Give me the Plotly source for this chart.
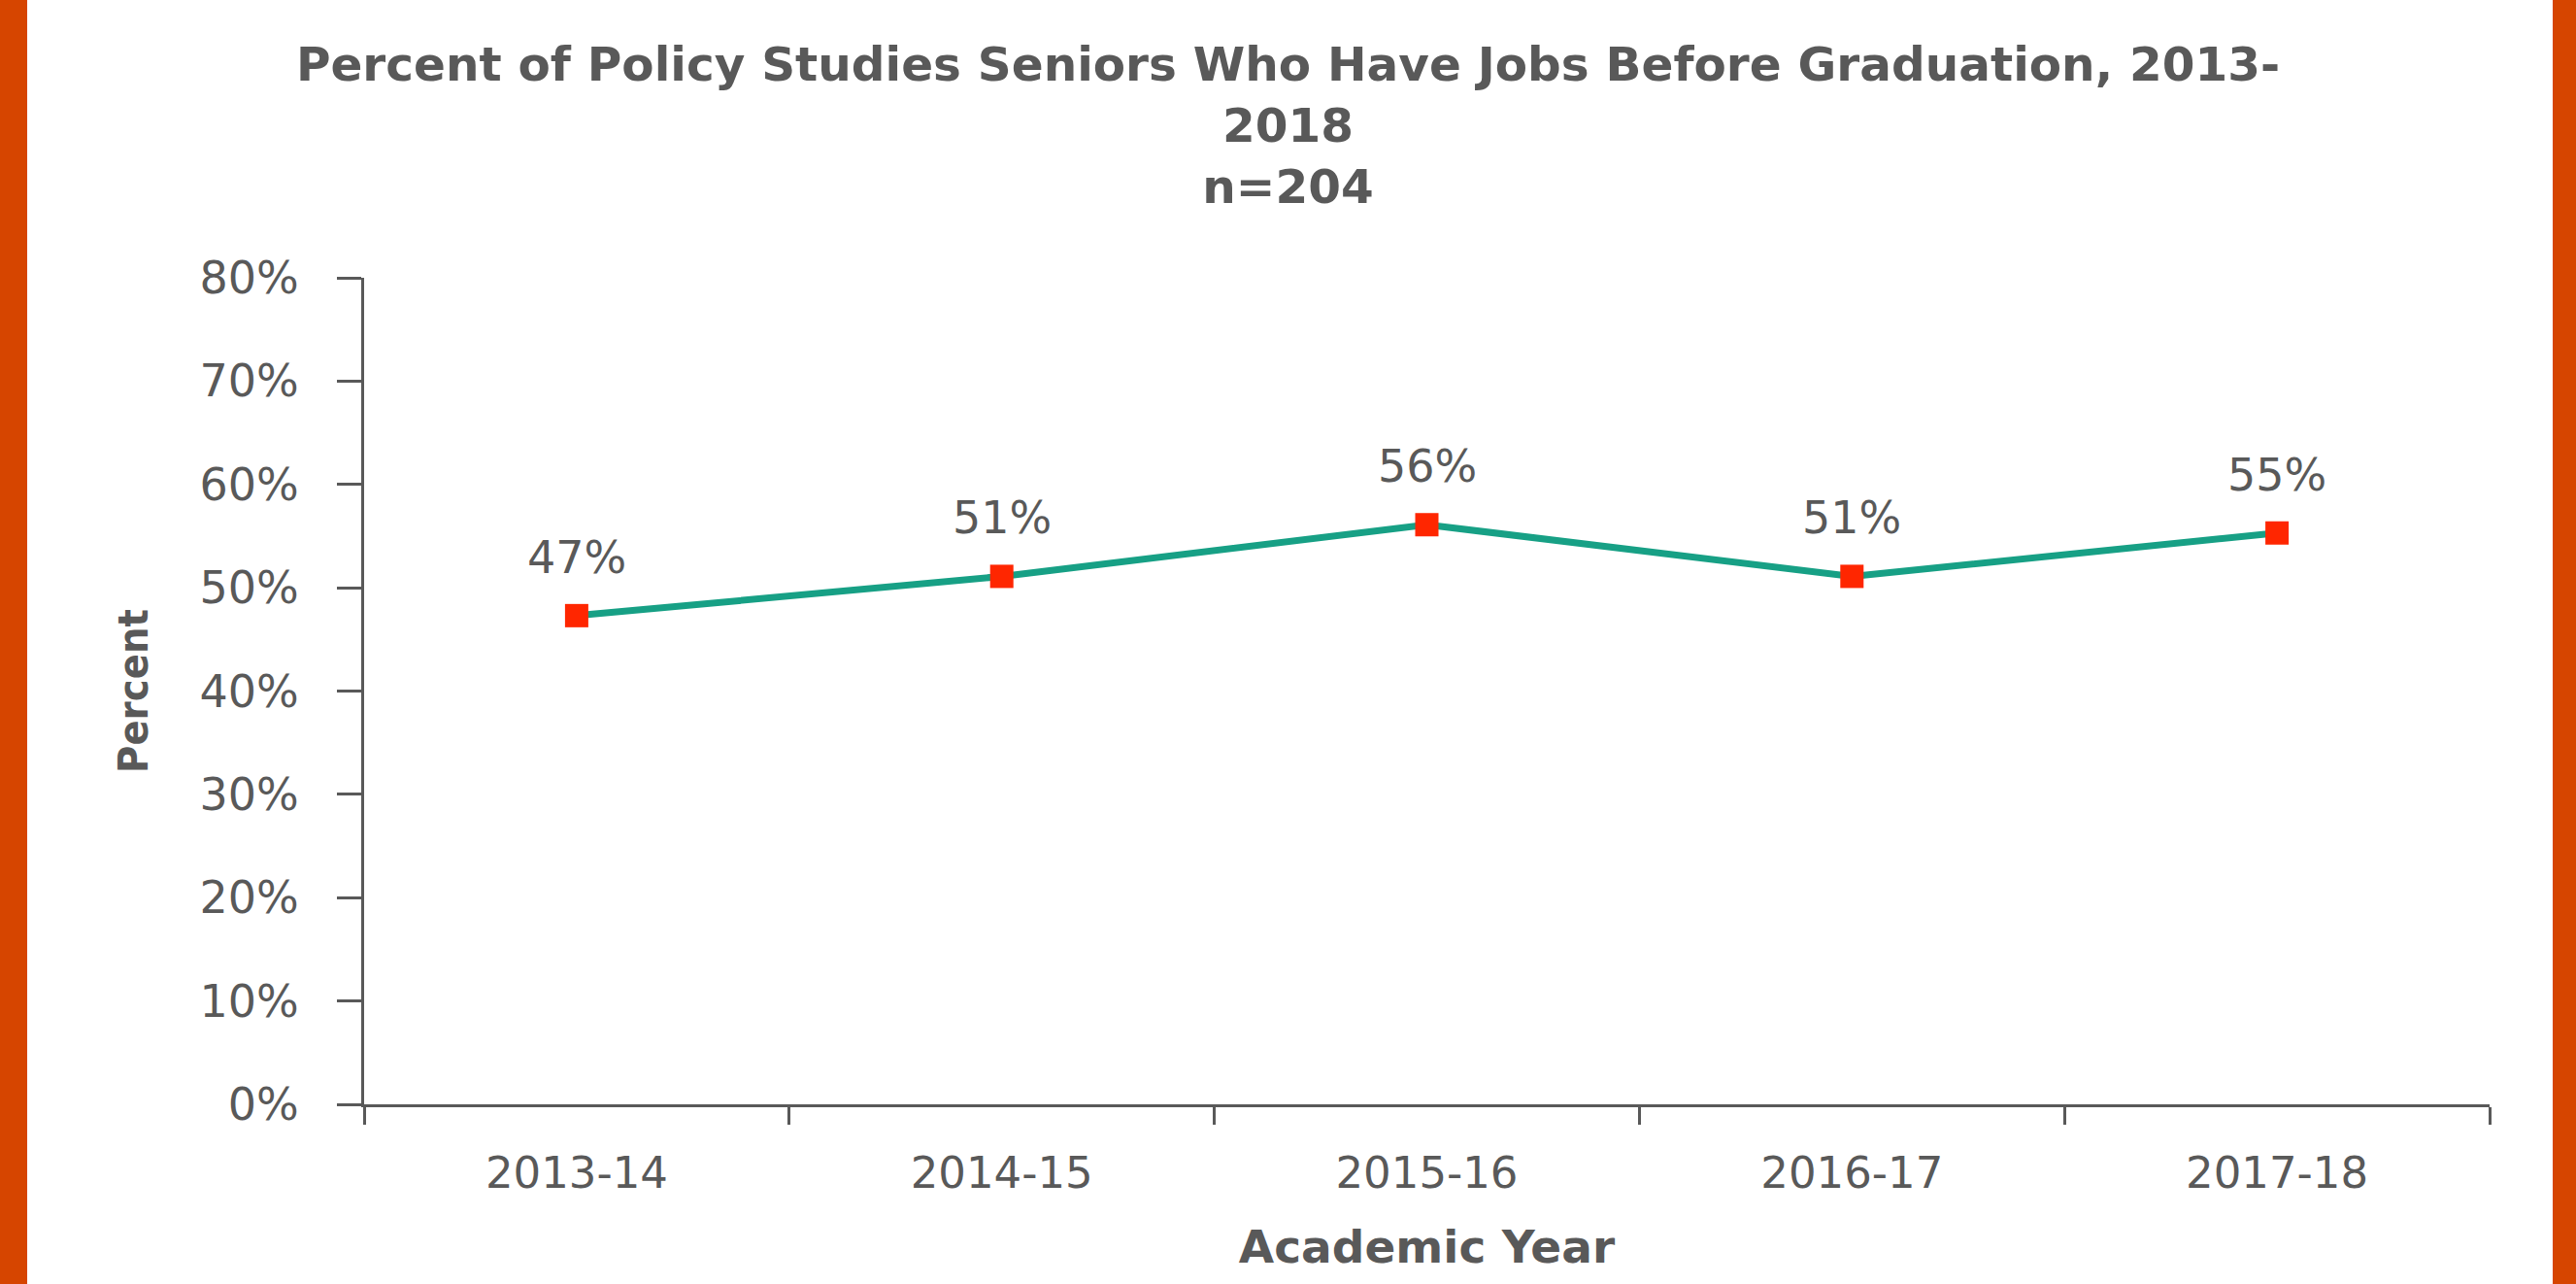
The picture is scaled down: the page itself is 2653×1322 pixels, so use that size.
import plotly.graph_objects as go

# ---- data ----
years = ["2013-14", "2014-15", "2015-16", "2016-17", "2017-18"]
pct_jobs = [47.3, 51.1, 56.1, 51.1, 55.3]
pct_labels = ["47%", "51%", "56%", "51%", "55%"]
y_ticks = [0, 10, 20, 30, 40, 50, 60, 70, 80]
y_tick_text = ["0%", "10%", "20%", "30%", "40%", "50%", "60%", "70%", "80%"]

title_text = ("Percent of Policy Studies Seniors Who Have Jobs Before Graduation, 2013-"
              "<br>2018<br>n=204")

# ---- layout constants (pixels) ----
W, H = 2653, 1322
ML, MR, MT, MB = 375, 89, 286, 185
PW = W - ML - MR
PH = H - MT - MB
GRAY = "#595959"
ORANGE = "#D64500"
TEAL = "#17A085"
RED = "#FF2600"

fig = go.Figure()
fig.add_trace(go.Scatter(
    x=years, y=pct_jobs, mode="lines+markers",
    line=dict(color=TEAL, width=7),
    marker=dict(symbol="square", size=24, color=RED),
    hoverinfo="skip", showlegend=False,
))

for x, y, t in zip(years, pct_jobs, pct_labels):
    fig.add_annotation(x=x, y=y, text=t, showarrow=False, yanchor="middle",
                       yshift=60, font=dict(family="DejaVu Sans", size=46, color=GRAY))

# orange side bars
fig.add_shape(type="rect", xref="paper", yref="paper",
              x0=(-5 - ML) / PW, x1=(28 - ML) / PW, y0=-(MB + 5) / PH, y1=1 + (MT + 5) / PH,
              fillcolor=ORANGE, line_width=0, layer="below")
fig.add_shape(type="rect", xref="paper", yref="paper",
              x0=(2629 - ML) / PW, x1=(W + 5 - ML) / PW, y0=-(MB + 5) / PH, y1=1 + (MT + 5) / PH,
              fillcolor=ORANGE, line_width=0, layer="below")

fig.update_layout(
    width=W, height=H,
    margin=dict(l=ML, r=MR, t=MT, b=MB, autoexpand=False),
    paper_bgcolor="white", plot_bgcolor="white",
    title=dict(text=title_text, x=0.5, xref="container", xanchor="center",
               y=1 - 83 / H, yref="container", yanchor="top",
               font=dict(family="DejaVu Sans", size=48.5, color=GRAY, weight="bold")),
    xaxis=dict(
        type="category", range=[-0.5, 4.5], tickson="boundaries",
        ticks="outside", ticklen=18, tickwidth=3, tickcolor=GRAY,
        showline=True, linewidth=3, linecolor=GRAY, showgrid=False, zeroline=False,
        tickfont=dict(family="DejaVu Sans", size=45, color=GRAY),
        ticklabelstandoff=29,
        title=dict(text="Academic Year", standoff=35,
                   font=dict(family="DejaVu Sans", size=47, color=GRAY, weight="bold")),
    ),
    yaxis=dict(
        range=[0, 80], tickmode="array", tickvals=y_ticks, ticktext=y_tick_text,
        ticks="outside", ticklen=25, tickwidth=3, tickcolor=GRAY,
        showline=True, linewidth=3, linecolor=GRAY, showgrid=False, zeroline=False,
        tickfont=dict(family="DejaVu Sans", size=46, color=GRAY),
        ticklabelstandoff=30,
        title=dict(text="Percent", standoff=40,
                   font=dict(family="DejaVu Sans Condensed", size=43,
                             color=GRAY, weight="bold")),
    ),
)

fig.write_html("out.html",
               config={"displayModeBar": False},
               post_script="document.body.style.margin='0';document.body.style.overflow='hidden';")
